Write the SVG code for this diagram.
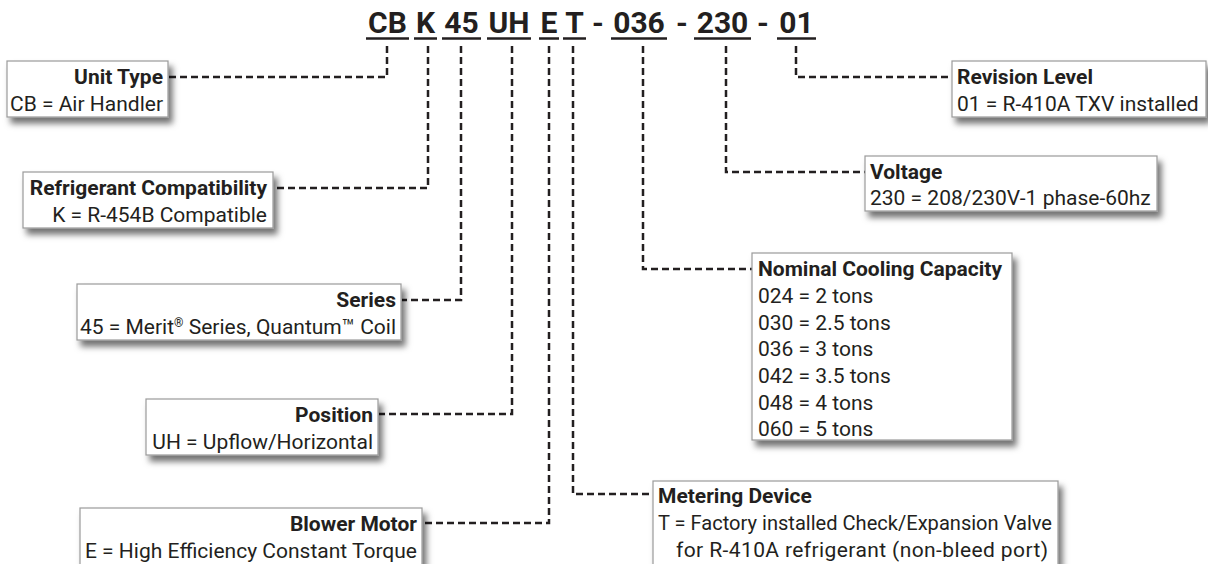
<svg xmlns="http://www.w3.org/2000/svg" width="1208" height="564" viewBox="0 0 1208 564">
<defs>
<filter id="sh" x="-10%" y="-20%" width="130%" height="160%">
<feDropShadow dx="4" dy="6" stdDeviation="3" flood-color="#000" flood-opacity="0.55"/>
</filter>
<style>
.box{fill:#fff;stroke:#9a9a9a;stroke-width:1.2;filter:url(#sh)}
.t{font-family:Roboto,"Liberation Sans",sans-serif;font-size:21px;fill:#231f20}
.b{font-weight:bold}
.e{text-anchor:end}
.title{font-family:Roboto,"Liberation Sans",sans-serif;font-size:30px;font-weight:bold;fill:#231f20;text-anchor:middle}
.ul{stroke:#231f20;stroke-width:2.5}
.c{fill:none;stroke:#231f20;stroke-width:2.5;stroke-dasharray:7 4}
</style>
</defs>
<rect width="1208" height="564" fill="#fff"/>
<g id="title">
<text class="title" x="387.5" y="33">CB</text>
<text class="title" x="425.5" y="33">K</text>
<text class="title" x="461.5" y="33">45</text>
<text class="title" x="509" y="33">UH</text>
<text class="title" x="549" y="33">E</text>
<text class="title" x="574.5" y="33">T</text>
<text class="title" x="598" y="33">-</text>
<text class="title" x="639" y="33">036</text>
<text class="title" x="682" y="33">-</text>
<text class="title" x="722.5" y="33">230</text>
<text class="title" x="763" y="33">-</text>
<text class="title" x="796.5" y="33">01</text>
<line class="ul" x1="366" y1="38.5" x2="409" y2="38.5"/>
<line class="ul" x1="414" y1="38.5" x2="437" y2="38.5"/>
<line class="ul" x1="442" y1="38.5" x2="481" y2="38.5"/>
<line class="ul" x1="487" y1="38.5" x2="531" y2="38.5"/>
<line class="ul" x1="539" y1="38.5" x2="559" y2="38.5"/>
<line class="ul" x1="563" y1="38.5" x2="586" y2="38.5"/>
<line class="ul" x1="611" y1="38.5" x2="667" y2="38.5"/>
<line class="ul" x1="694" y1="38.5" x2="751" y2="38.5"/>
<line class="ul" x1="777" y1="38.5" x2="816" y2="38.5"/>
</g>
<g id="connectors">
<path class="c" d="M387 46 V77 H169"/>
<path class="c" d="M428 46 V188 H274"/>
<path class="c" d="M461 46 V300 H402"/>
<path class="c" d="M512 46 V414 H379"/>
<path class="c" d="M549 46 V523 H423"/>
<path class="c" d="M573 46 V494 H653"/>
<path class="c" d="M643 46 V269 H752"/>
<path class="c" d="M726 46 V172 H865"/>
<path class="c" d="M796 46 V77 H952"/>
</g>
<g id="unit-type">
<rect class="box" x="7" y="61" width="161" height="56"/>
<text class="t b e" x="163" y="84">Unit Type</text>
<text class="t e" x="163" y="111">CB = Air Handler</text>
</g>
<g id="refrigerant">
<rect class="box" x="23" y="172" width="250" height="56"/>
<text class="t b e" x="267" y="195">Refrigerant Compatibility</text>
<text class="t e" x="267" y="222">K = R-454B Compatible</text>
</g>
<g id="series">
<rect class="box" x="77" y="284" width="324" height="56"/>
<text class="t b e" x="396" y="307">Series</text>
<text class="t e" x="396" y="334">45 = Merit<tspan font-size="12" dy="-7">®</tspan><tspan dy="7"> Series, Quantum™ Coil</tspan></text>
</g>
<g id="position">
<rect class="box" x="146" y="399" width="232" height="56"/>
<text class="t b e" x="373" y="422">Position</text>
<text class="t e" x="373" y="449">UH = Upflow/Horizontal</text>
</g>
<g id="blower-motor">
<rect class="box" x="80" y="508" width="342" height="60"/>
<text class="t b e" x="417" y="531">Blower Motor</text>
<text class="t e" x="417" y="558">E = High Efficiency Constant Torque</text>
</g>
<g id="revision-level">
<rect class="box" x="952" y="61" width="254" height="56"/>
<text class="t b" x="957" y="84">Revision Level</text>
<text class="t" x="957" y="111">01 = R-410A TXV installed</text>
</g>
<g id="voltage">
<rect class="box" x="865" y="156" width="292" height="55"/>
<text class="t b" x="870" y="179">Voltage</text>
<text class="t" x="870" y="205">230 = 208/230V-1 phase-60hz</text>
</g>
<g id="nominal-cooling-capacity">
<rect class="box" x="752" y="253" width="260" height="187"/>
<text class="t b" x="758" y="276">Nominal Cooling Capacity</text>
<text class="t" x="758" y="303">024 = 2 tons</text>
<text class="t" x="758" y="329.5">030 = 2.5 tons</text>
<text class="t" x="758" y="356">036 = 3 tons</text>
<text class="t" x="758" y="383">042 = 3.5 tons</text>
<text class="t" x="758" y="409.5">048 = 4 tons</text>
<text class="t" x="758" y="436">060 = 5 tons</text>
</g>
<g id="metering-device">
<rect class="box" x="653" y="481" width="405" height="90"/>
<text class="t b" x="658" y="503">Metering Device</text>
<text class="t" x="658" y="530" textLength="394" lengthAdjust="spacingAndGlyphs">T = Factory installed Check/Expansion Valve</text>
<text class="t" x="676" y="557" textLength="372" lengthAdjust="spacing">for R-410A refrigerant (non-bleed port)</text>
</g>
</svg>
